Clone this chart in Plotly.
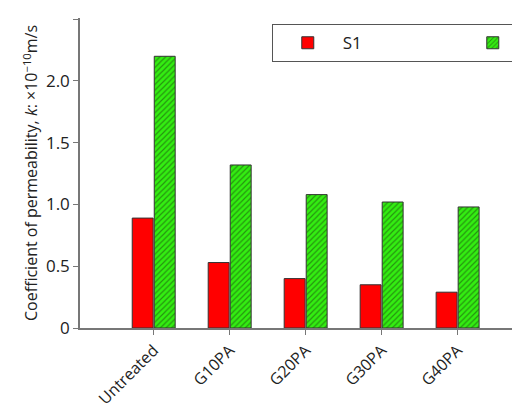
import plotly.graph_objects as go

categories = ["Untreated", "G10PA", "G20PA", "G30PA", "G40PA"]
s1 = [0.89, 0.53, 0.40, 0.35, 0.29]
s2 = [2.20, 1.32, 1.08, 1.02, 0.98]

fig = go.Figure()
fig.add_trace(go.Bar(x=categories, y=s1, name="S1",
                     marker=dict(color="#ff0000", line=dict(color="#333333", width=1))))
fig.add_trace(go.Bar(x=categories, y=s2, name="S2",
                     marker=dict(color="#22dd00", line=dict(color="#333333", width=1),
                                 pattern=dict(shape="/", fgcolor="#1a3a10", bgcolor="#33ee11",
                                              size=4, solidity=0.3))))

fig.update_layout(
    width=520, height=403,
    margin=dict(l=72, r=2, t=10, b=83, autoexpand=False),
    plot_bgcolor="white", paper_bgcolor="white",
    font=dict(family="Open Sans", size=17, color="#222222"),
    barmode="group", bargap=0.42, bargroupgap=0.05,
    legend=dict(orientation="h", x=0.43, y=0.98, xanchor="left", yanchor="top",
                bordercolor="#555555", borderwidth=1, font=dict(size=17),
                itemwidth=60, entrywidth=110, entrywidthmode="pixels"),
    showlegend=True,
)
fig.update_xaxes(range=[-0.97, 4.9], showline=True, linecolor="#777777", linewidth=1.5,
                 ticks="outside", ticklen=5, tickcolor="#777777", tickangle=-45,
                 tickfont=dict(size=16), showgrid=False)
fig.update_yaxes(range=[0, 2.51], tickvals=[0, 0.5, 1.0, 1.5, 2.0, 2.5],
                 ticktext=["0", "0.5", "1.0", "1.5", "2.0", "2.5"],
                 showline=True, linecolor="#777777", linewidth=1.5,
                 ticks="outside", ticklen=5, tickcolor="#777777", showgrid=False, zeroline=False,
                 title=dict(text="Coefficient of permeability, <i>k</i>: ×10<sup>−10</sup>m/s",
                            font=dict(size=16), standoff=4))

fig.write_html("out.html")
